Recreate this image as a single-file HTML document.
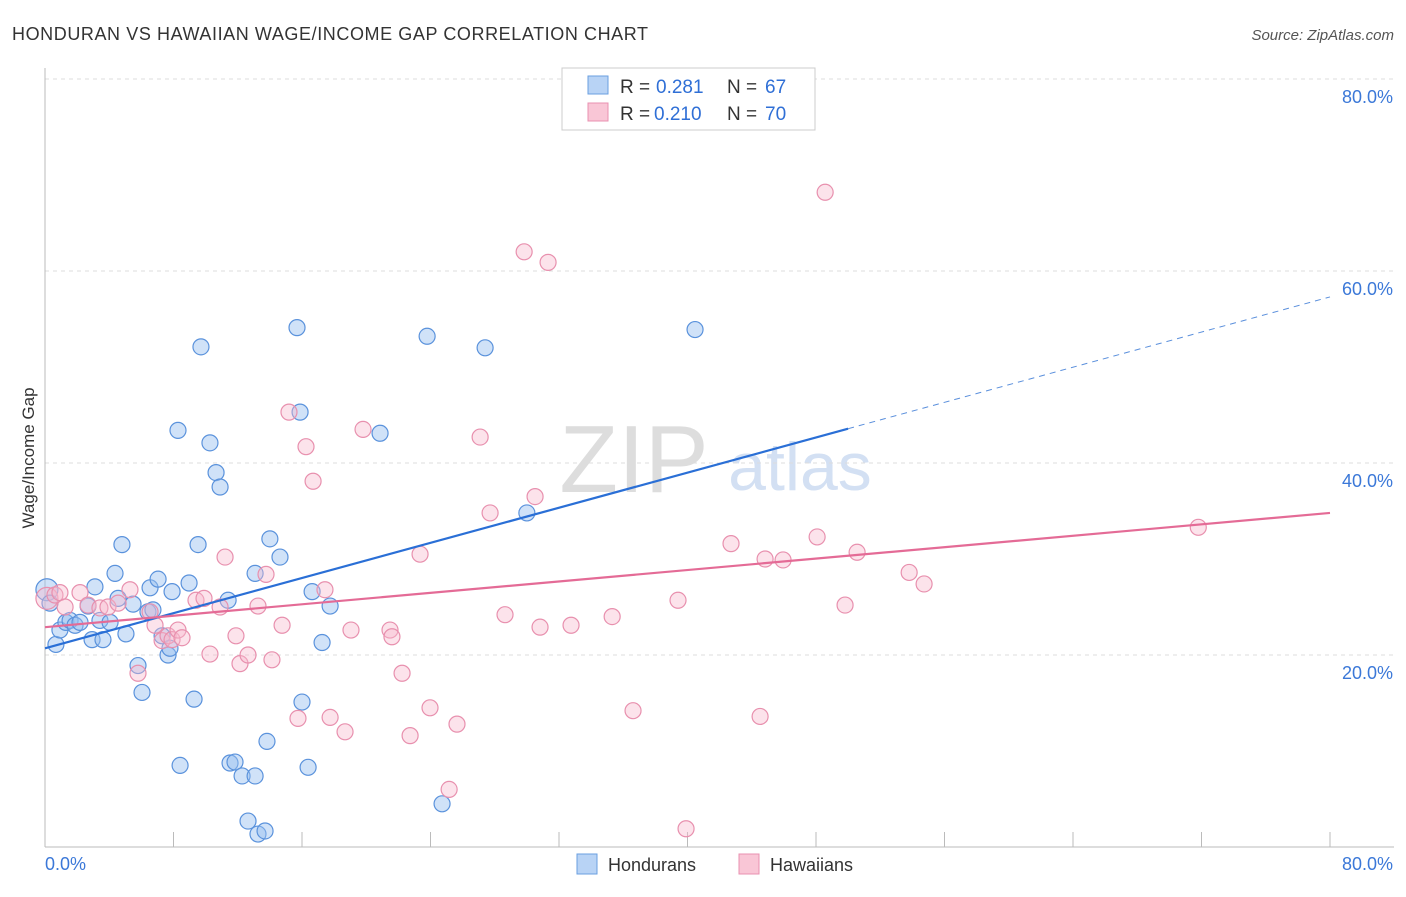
<!DOCTYPE html>
<html><head><meta charset="utf-8"><style>
body{margin:0;background:#fff;font-family:"Liberation Sans",sans-serif}
svg text{font-family:"Liberation Sans",sans-serif}
</style></head><body>
<svg width="1406" height="892" id="c">
<text x="12" y="40" font-size="18" fill="#333" textLength="636">HONDURAN VS HAWAIIAN WAGE/INCOME GAP CORRELATION CHART</text>
<text x="1394" y="40" font-size="15" fill="#555" text-anchor="end" font-style="italic">Source: ZipAtlas.com</text>
<text x="34" y="458" font-size="17" fill="#333" text-anchor="middle" transform="rotate(-90 34 458)">Wage/Income Gap</text>
<g>
<text x="634" y="492" font-size="96" fill="#ddd" text-anchor="middle" font-family="Liberation Serif">ZIP</text>
<text x="800" y="490" font-size="68" fill="#d3e0f3" text-anchor="middle">atlas</text>
</g>
<g id="grid"></g><g id="axes"></g><g id="pts"></g><g id="lines"></g>
<g>
<rect x="562" y="68" width="253" height="62" fill="#fff" stroke="#ccc"/>
<rect x="588" y="76" width="20" height="18" fill="#b8d3f5" stroke="#6a9fe0"/>
<rect x="588" y="103" width="20" height="18" fill="#f9c6d6" stroke="#e990b0"/>
<g font-size="19">
<text x="620" y="93" fill="#333">R =</text><text x="656" y="93" fill="#2f6fd6">0.281</text>
<text x="727" y="93" fill="#333">N =</text><text x="765" y="93" fill="#2f6fd6">67</text></g>
<g font-size="19">
<text x="620" y="120" fill="#333">R =</text><text x="654" y="120" fill="#2f6fd6">0.210</text>
<text x="727" y="120" fill="#333">N =</text><text x="765" y="120" fill="#2f6fd6">70</text></g>
</g>
<g>
<rect x="577" y="854" width="20" height="20" fill="#b8d3f5" stroke="#6a9fe0"/>
<text x="608" y="871" font-size="18" fill="#333">Hondurans</text>
<rect x="739" y="854" width="20" height="20" fill="#f9c6d6" stroke="#e990b0"/>
<text x="770" y="871" font-size="18" fill="#333">Hawaiians</text>
</g>
</svg>
<script>
const yTicks=[20,40,60,80];
const yTickLabels=["20.0%","40.0%","60.0%","80.0%"];
const xTicks=[0,8,16,24,32,40,48,56,64,72,80];
const hondX=[0.12,0.31,0.68,0.93,1.3,1.56,1.87,2.18,2.68,2.93,3.11,3.42,3.61,4.05,4.36,4.55,4.79,5.04,5.48,5.79,6.04,6.41,6.54,6.72,7.04,7.29,7.66,7.78,7.91,8.28,8.41,8.97,9.28,9.53,9.71,10.27,10.65,10.9,11.4,11.52,11.83,12.27,12.64,13.08,13.08,13.26,13.7,13.82,14.0,14.63,15.69,15.88,16.0,16.38,16.63,17.25,17.75,20.86,23.79,24.72,27.4,30.0,40.47];
const hondY=[26.8,25.4,21.1,22.6,23.4,23.6,23.1,23.4,25.1,21.6,27.1,23.6,21.6,23.4,28.5,25.9,31.5,22.2,25.3,18.9,16.1,24.5,27.0,24.7,27.9,22.0,20.0,20.7,26.6,43.4,8.5,27.5,15.4,31.5,52.1,42.1,39.0,37.5,25.7,8.75,8.85,7.4,2.7,7.4,28.5,1.35,1.67,11.0,32.1,30.2,54.1,45.3,15.1,8.3,26.6,21.3,25.1,43.1,53.2,4.5,52.0,34.8,53.9];
const hawX=[0.12,0.62,0.93,1.25,2.18,2.68,3.42,3.92,4.55,5.29,5.79,6.54,6.85,7.29,7.66,7.91,8.28,8.53,9.4,9.9,10.27,10.9,11.21,11.89,12.14,12.64,13.26,13.76,14.13,14.76,15.19,15.75,16.25,16.69,17.43,17.75,18.68,19.05,19.8,21.48,21.6,22.23,22.73,23.35,23.97,25.16,25.65,27.09,27.71,28.64,29.83,30.51,30.82,31.32,32.75,35.31,36.61,39.41,39.91,42.71,44.52,44.83,45.95,48.07,48.57,49.81,50.56,53.8,54.73,71.8];
const hawY=[25.9,26.25,26.5,25.0,26.5,25.2,24.9,25.0,25.4,26.8,18.1,24.5,23.1,21.5,22.0,21.6,22.6,21.8,25.7,25.9,20.1,25.0,30.2,22.0,19.1,20.0,25.1,28.4,19.5,23.1,45.3,13.4,41.7,38.1,26.8,13.5,12.0,22.6,43.5,22.6,21.9,18.1,11.6,30.5,14.5,6.0,12.8,42.7,34.8,24.2,62.0,36.5,22.9,60.9,23.1,24.0,14.2,25.7,1.9,31.6,13.6,30.0,29.9,32.3,68.2,25.2,30.7,28.6,27.4,33.3];
const hondTrend=[20.7,57.3], hondSolidEnd=50;
const hawTrend=[22.9,34.8];
const NS='http://www.w3.org/2000/svg';
const X=v=>45+v*1285/80, Y=v=>847-v*9.6;
function mk(p,t,a){const e=document.createElementNS(NS,t);for(const k in a)e.setAttribute(k,a[k]);document.getElementById(p).appendChild(e);return e;}
yTicks.forEach((t,i)=>{
 const g=mk('grid','line',{x1:45,x2:1394,y1:Y(t),y2:Y(t),stroke:'#ddd','stroke-dasharray':'4,4'});
 
 
 const l=mk('axes','text',{x:1393,y:Y(t)+24,'font-size':18,fill:'#3b78d8','text-anchor':'end'});l.textContent=yTickLabels[i];
 
 
});
let ax=mk('axes','line',{x1:45,x2:45,y1:68,y2:847,stroke:'#bbb'});


ax=mk('axes','line',{x1:45,x2:1394,y1:847,y2:847,stroke:'#bbb'});


xTicks.forEach(t=>{const e=mk('axes','line',{x1:X(t),x2:X(t),y1:832,y2:847,stroke:'#bbb'});
 
 });
let t0=mk('axes','text',{x:45,y:870,'font-size':18,fill:'#3b78d8'});t0.textContent='0.0%';


t0=mk('axes','text',{x:1393,y:870,'font-size':18,fill:'#3b78d8','text-anchor':'end'});t0.textContent='80.0%';


hondX.forEach((x,i)=>{const c=mk('pts','circle',{cx:X(x),cy:Y(hondY[i]),r:i==0?11:8,fill:'rgba(150,190,240,0.45)',stroke:'#5a92dc','stroke-width':1.2});
 
 });
hawX.forEach((x,i)=>{const c=mk('pts','circle',{cx:X(x),cy:Y(hawY[i]),r:i==0?11:8,fill:'rgba(248,185,205,0.4)',stroke:'#e890ae','stroke-width':1.2});
 
 });
const hy=x=>hondTrend[0]+(hondTrend[1]-hondTrend[0])*x/80;
let ln=mk('lines','line',{x1:X(0),y1:Y(hy(0)),x2:X(hondSolidEnd),y2:Y(hy(hondSolidEnd)),stroke:'#2a6fd6','stroke-width':2.2});


ln=mk('lines','line',{x1:X(hondSolidEnd),y1:Y(hy(hondSolidEnd)),x2:X(80),y2:Y(hy(80)),stroke:'#5a8fdc','stroke-width':1,'stroke-dasharray':'6,5'});


ln=mk('lines','line',{x1:X(0),y1:Y(hawTrend[0]),x2:X(80),y2:Y(hawTrend[1]),stroke:'#e46b96','stroke-width':2.2});


</script>
</body></html>
